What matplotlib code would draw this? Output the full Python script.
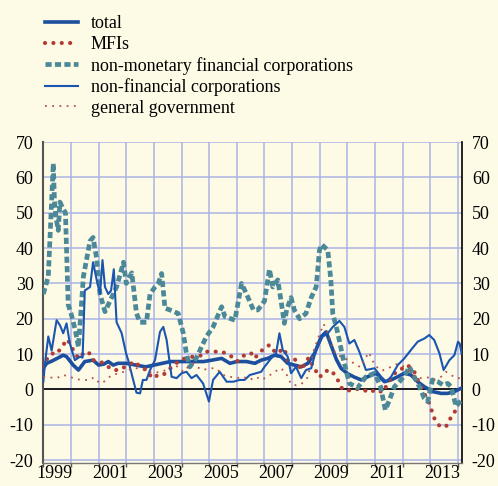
import matplotlib
matplotlib.use("Agg")
import matplotlib.pyplot as plt
from matplotlib.ticker import FixedLocator, NullFormatter

# dates as decimal years, values in % (annual growth rates)
total_t = [1999.0, 1999.12, 1999.3, 1999.5, 1999.72, 1999.84, 2000.08, 2000.27, 2000.5, 2000.8,
           2001.0, 2001.2, 2001.35, 2001.53, 2001.7, 2002.0, 2002.35, 2002.7, 2003.0, 2003.3,
           2003.6, 2004.0, 2004.4, 2004.8, 2005.1, 2005.45, 2005.75, 2006.0, 2006.35, 2006.65,
           2006.88, 2007.12, 2007.36, 2007.6, 2007.84, 2008.08, 2008.33, 2008.57, 2008.81, 2009.05,
           2009.23, 2009.41, 2009.6, 2009.77, 2010.0, 2010.25, 2010.5, 2010.73, 2011.04, 2011.34,
           2011.58, 2011.82, 2012.06, 2012.3, 2012.54, 2012.78, 2013.08, 2013.39, 2013.63, 2013.87,
           2014.1]
total = [6.0, 7.4, 8.0, 8.8, 9.7, 9.3, 6.9, 5.5, 7.9, 8.3,
         6.9, 7.2, 7.9, 6.9, 7.4, 7.4, 6.9, 6.4, 6.9, 7.4,
         7.9, 7.9, 7.9, 7.9, 8.3, 8.8, 7.4, 7.9, 7.9, 7.4,
         8.3, 8.8, 9.7, 9.3, 7.4, 6.9, 6.4, 7.4, 10.2, 14.9,
         16.3, 12.5, 8.5, 6.0, 4.5, 3.5, 2.7, 3.6, 4.6, 2.2,
         2.7, 3.6, 4.6, 4.1, 2.2, 0.8, -0.6, -1.1, -1.1, -0.6,
         0.3]

mfi_t = [1999.0, 1999.06, 1999.3, 1999.48, 1999.6, 1999.72, 1999.87, 2000.08, 2000.27, 2000.45,
         2000.63, 2000.8, 2001.1, 2001.35, 2001.53, 2001.75, 2001.95, 2002.31, 2002.5, 2002.73,
         2002.94, 2003.16, 2003.34, 2003.52, 2003.88, 2004.12, 2004.42, 2004.78, 2004.9, 2005.14,
         2005.45, 2005.75, 2006.0, 2006.35, 2006.52, 2006.65, 2006.8, 2007.0, 2007.18, 2007.42,
         2007.72, 2007.84, 2008.08, 2008.33, 2008.45, 2008.6, 2008.8, 2009.0, 2009.17, 2009.4,
         2009.55, 2009.7, 2009.82, 2010.1, 2010.4, 2010.6, 2010.85, 2011.0, 2011.28, 2011.52,
         2011.76, 2012.0, 2012.18, 2012.42, 2012.6, 2012.78, 2012.96, 2013.14, 2013.33, 2013.5,
         2013.63, 2013.75, 2013.93, 2014.1]
mfi = [6.5, 7.9, 10.2, 10.0, 11.3, 12.6, 14.2, 11.2, 8.8, 10.2,
       10.7, 8.3, 7.7, 6.4, 5.5, 5.5, 6.4, 7.9, 6.4, 5.5,
       3.2, 4.1, 4.1, 5.5, 7.9, 8.8, 9.3, 9.7, 10.7, 10.7,
       10.7, 9.7, 7.9, 10.2, 10.2, 8.8, 10.4, 11.6, 12.6, 10.2,
       11.6, 8.3, 8.8, 5.5, 7.2, 9.0, 6.0, 3.5, 5.1, 5.5,
       4.0, 2.0, 0.0, -0.3, 0.2, -0.2, -0.8, 0.0, -0.8, 2.6,
       5.0, 6.0, 6.9, 5.0, 1.7, -1.1, -3.9, -8.1, -10.3, -10.7,
       -10.0, -7.7, -5.8, -5.3]

nmfc_t = [1999.0, 1999.18, 1999.36, 1999.4, 1999.45, 1999.54, 1999.6, 1999.72, 1999.8, 1999.9,
          2000.02, 2000.15, 2000.27, 2000.45, 2000.69, 2000.8, 2000.93, 2001.05, 2001.23, 2001.41,
          2001.65, 2001.9, 2002.0, 2002.2, 2002.37, 2002.5, 2002.73, 2002.86, 2003.04, 2003.16,
          2003.28, 2003.4, 2003.58, 2003.88, 2004.06, 2004.18, 2004.3, 2004.54, 2004.78, 2004.9,
          2005.14, 2005.45, 2005.57, 2005.93, 2006.17, 2006.35, 2006.6, 2006.76, 2007.0, 2007.18,
          2007.3, 2007.48, 2007.6, 2007.72, 2007.8, 2007.96, 2008.08, 2008.27, 2008.5, 2008.69,
          2008.87, 2008.99, 2009.07, 2009.29, 2009.4, 2009.47, 2009.65, 2009.83, 2010.07, 2010.37,
          2010.67, 2010.98, 2011.2, 2011.37, 2011.52, 2011.7, 2011.94, 2012.12, 2012.24, 2012.42,
          2012.6, 2012.78, 2012.9, 2013.08, 2013.27, 2013.45, 2013.63, 2013.75, 2013.93, 2014.17]
nmfc = [27, 32, 64, 54, 49, 45, 53, 51, 50, 24,
        21, 17, 12, 32, 42, 43, 37, 27, 22, 25,
        29, 36, 30, 33, 21.5, 19, 19, 27, 29, 30,
        32.8, 23, 22.5, 21.5, 16, 10, 6.4, 9, 13, 15,
        17.7, 23.4, 20.6, 19.6, 30, 27, 22.5, 22.5, 25, 34,
        29, 31, 25, 18.7, 22.5, 26, 22.5, 20, 21.5, 26,
        29, 39.4, 41, 39.4, 31, 21.5, 16, 9.3, 1.7, 0.5,
        3.6, 4.6, 0.8, -5.8, -3, 0.8, 2.7, 4.6, 6.4, 3.6,
        0.8, -2.5, -3.4, 2.7, 2.2, 1.3, 1.7, 0.8, -4.8, -2.5]

nfc_t = [1999.0, 1999.06, 1999.18, 1999.3, 1999.48, 1999.6, 1999.72, 1999.84, 1999.96, 2000.14,
         2000.33, 2000.42, 2000.5, 2000.69, 2000.8, 2000.93, 2001.05, 2001.14, 2001.23, 2001.35,
         2001.45, 2001.55, 2001.65, 2001.83, 2002.0, 2002.07, 2002.25, 2002.37, 2002.5, 2002.6,
         2002.73, 2002.86, 2003.04, 2003.22, 2003.34, 2003.46, 2003.64, 2003.82, 2004.0, 2004.18,
         2004.36, 2004.54, 2004.78, 2004.99, 2005.14, 2005.38, 2005.63, 2005.87, 2006.1, 2006.28,
         2006.47, 2006.7, 2006.88, 2007.0, 2007.24, 2007.42, 2007.54, 2007.66, 2007.84, 2007.96,
         2008.14, 2008.33, 2008.5, 2008.69, 2008.87, 2009.1, 2009.29, 2009.47, 2009.71, 2009.89,
         2010.07, 2010.25, 2010.43, 2010.67, 2010.98, 2011.22, 2011.4, 2011.58, 2011.82, 2012.06,
         2012.3, 2012.54, 2012.78, 2012.96, 2013.14, 2013.33, 2013.48, 2013.69, 2013.87, 2014.0,
         2014.06, 2014.13]
nfc = [2.2, 7.4, 15.0, 11.0, 19.6, 18.2, 15.9, 18.7, 13.0, 8.3,
       9.3, 9.0, 28.0, 29.0, 36.0, 31.0, 27.0, 36.6, 29.0, 27.0,
       28.0, 34.0, 19.0, 16.0, 10.0, 8.3, 2.7, -0.9, -1.1, 2.7,
       2.7, 5.5, 8.3, 16.3, 17.7, 14.0, 3.6, 3.2, 4.6, 5.0,
       3.2, 4.1, 1.7, -3.4, 2.7, 5.0, 2.2, 2.2, 2.7, 2.7,
       4.1, 4.6, 5.0, 6.4, 8.8, 10.2, 15.9, 11.2, 9.3, 4.6,
       6.4, 3.2, 5.5, 6.0, 11.2, 14.9, 15.9, 17.7, 19.4, 17.7,
       13.0, 14.0, 10.7, 5.5, 6.0, 3.6, 2.2, 3.6, 6.9, 8.8,
       11.2, 13.5, 14.4, 15.4, 14.0, 10.2, 5.5, 8.3, 9.7, 13.5,
       13.0, 10.2]

gov_t = [1999.0, 1999.24, 1999.48, 1999.72, 1999.96, 2000.2, 2000.45, 2000.69, 2000.82, 2000.98,
         2001.1, 2001.28, 2001.47, 2001.77, 2002.0, 2002.25, 2002.5, 2002.73, 2002.98, 2003.22,
         2003.46, 2003.7, 2003.88, 2004.06, 2004.24, 2004.42, 2004.54, 2004.78, 2005.0, 2005.25,
         2005.5, 2005.75, 2006.0, 2006.24, 2006.47, 2006.7, 2006.88, 2007.12, 2007.36, 2007.6,
         2007.78, 2007.96, 2008.14, 2008.33, 2008.57, 2008.78, 2008.96, 2009.14, 2009.26, 2009.39,
         2009.57, 2009.87, 2010.17, 2010.47, 2010.77, 2011.0, 2011.25, 2011.55, 2011.8, 2012.1,
         2012.4, 2012.65, 2012.9, 2013.15, 2013.39, 2013.57, 2013.75, 2013.93, 2014.1]
gov = [3.6, 3.4, 3.2, 4.1, 3.6, 2.9, 2.7, 2.7, 3.4, 2.2,
       1.7, 2.7, 4.1, 4.6, 5.3, 6.0, 6.0, 5.3, 4.6, 5.0,
       5.5, 6.9, 6.4, 5.0, 6.4, 7.4, 6.4, 5.5, 6.0, 6.0,
       4.1, 3.6, 3.2, 3.6, 2.7, 3.6, 2.7, 3.6, 5.0, 6.0,
       4.6, 1.5, 1.2, 1.5, 3.5, 11.0, 15.0, 18.5, 16.5, 13.7,
       10.0, 9.0, 7.7, 6.3, 10.5, 6.7, 5.3, 6.3, 7.2, 6.3,
       3.9, 3.2, 3.4, 2.7, 3.6, 5.0, 4.1, 3.2, 3.2]

year_ticks = list(range(1999, 2015))
year_labels = ['1999', '2001', '2003', '2005', '2007', '2009', '2011', '2013']
y_ticks = [-20, -10, 0, 10, 20, 30, 40, 50, 60, 70]

bg = '#fdfae5'
plt.rcParams['font.family'] = ['Liberation Serif', 'DejaVu Serif']
plt.rcParams['axes.unicode_minus'] = False

fig = plt.figure(figsize=(4.98, 4.86), dpi=100, facecolor=bg)
ax = fig.add_axes([0.087, 0.0473, 0.841, 0.6605], facecolor=bg)

ax.plot(total_t, total, color='#1c4f9e', lw=2.6, label='total', zorder=3)
ax.plot(mfi_t, mfi, color='#b23b33', lw=3.0, linestyle=(0, (0.01, 2.0)),
        dash_capstyle='round', solid_capstyle='round', label='MFIs', zorder=3)
ax.plot(nmfc_t, nmfc, color='#4b8898', lw=3.4, linestyle=(0, (1.3, 0.7)),
        dash_capstyle='butt', label='non-monetary financial corporations', zorder=3)
ax.plot(nfc_t, nfc, color='#1a55b0', lw=1.5, label='non-financial corporations', zorder=3)
ax.plot(gov_t, gov, color='#b8524b', lw=1.3, linestyle=(0, (1, 3)),
        label='general government', zorder=3)

ax.axhline(0, color='black', lw=1.2, zorder=2)

ax.set_xlim(1999.0, 2014.15)
ax.set_ylim(-20.8, 70)

ax.xaxis.set_major_locator(FixedLocator(year_ticks))
ax.xaxis.set_major_formatter(NullFormatter())
ax.xaxis.set_minor_locator(FixedLocator([int(s) + 0.42 for s in year_labels]))
ax.set_xticklabels(year_labels, minor=True)
ax.tick_params(axis='x', which='major', direction='out', length=3, width=1, color='#555555')
ax.tick_params(axis='x', which='minor', length=0, pad=1.5, labelsize=13)

ax.set_yticks(y_ticks)
ax.tick_params(axis='y', length=0, labelsize=13, pad=7, labelright=True)

ax.grid(True, which='major', color='#aab4e6', lw=1.1, zorder=0)
ax.set_axisbelow(True)

ax.spines['top'].set_visible(False)
ax.spines['left'].set_color('#555555')
ax.spines['left'].set_linewidth(1.5)
ax.spines['right'].set_color('black')
ax.spines['right'].set_linewidth(1.2)
ax.spines['bottom'].set_color('#777777')
ax.spines['bottom'].set_linewidth(1.0)

fig.legend(loc='upper left', bbox_to_anchor=(0.075, 0.983), frameon=False,
           fontsize=13, handlelength=1.85, handletextpad=0.7, labelspacing=0.2,
           borderaxespad=0)

fig.savefig('out.png', dpi=100, facecolor=bg)
